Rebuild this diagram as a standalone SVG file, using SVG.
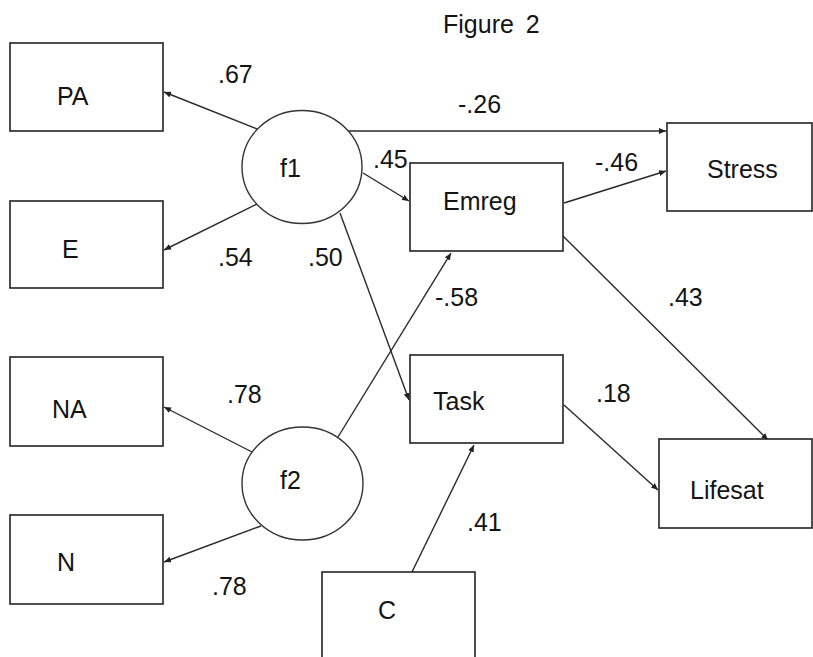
<svg xmlns="http://www.w3.org/2000/svg" width="813" height="657" viewBox="0 0 813 657">
<style>
.box{fill:#fff;stroke:#222;stroke-width:1.6}
.lat{fill:#fff;stroke:#333;stroke-width:1.4}
.t{font-family:"Liberation Sans",Arial,sans-serif;font-size:25px;fill:#141414}
.c line{stroke:#2a2a2a;stroke-width:1.4;marker-end:url(#ah)}
</style>
<defs>
<marker id="ah" markerUnits="userSpaceOnUse" markerWidth="8" markerHeight="6" refX="7" refY="3" orient="auto">
<path d="M0,0 L7,3 L0,6 z" fill="#222"/>
</marker>
</defs>
<rect width="813" height="657" fill="#fff"/>
<text class="t" x="443" y="33" word-spacing="5">Figure 2</text>
<g id="connectors" class="c">
<line x1="257" y1="129" x2="164" y2="92"/>
<line x1="257" y1="204" x2="164" y2="250"/>
<line x1="348" y1="131" x2="666" y2="131"/>
<line x1="363" y1="173" x2="409" y2="201"/>
<line x1="564" y1="203" x2="666" y2="171"/>
<line x1="563" y1="236" x2="768" y2="440"/>
<line x1="340" y1="213" x2="409" y2="400"/>
<line x1="338" y1="437" x2="451" y2="253"/>
<line x1="252" y1="452" x2="164" y2="407"/>
<line x1="261" y1="526" x2="164" y2="562"/>
<line x1="564" y1="405" x2="658" y2="490"/>
<line x1="412" y1="572" x2="474" y2="445"/>
</g>
<g id="labels">
<text class="t" x="218" y="83">.67</text>
<text class="t" x="218" y="266">.54</text>
<text class="t" x="308" y="266">.50</text>
<text class="t" x="458" y="113">-.26</text>
<text class="t" x="373" y="168">.45</text>
<text class="t" x="595" y="171">-.46</text>
<text class="t" x="435" y="306">-.58</text>
<text class="t" x="668" y="306">.43</text>
<text class="t" x="227" y="403">.78</text>
<text class="t" x="212" y="595">.78</text>
<text class="t" x="596" y="402">.18</text>
<text class="t" x="467" y="531">.41</text>
</g>
<g id="PA"><rect class="box" x="10" y="43" width="153" height="88"/><text class="t" x="57" y="105">PA</text></g>
<g id="E"><rect class="box" x="10" y="201" width="153" height="87"/><text class="t" x="62" y="258">E</text></g>
<g id="NA"><rect class="box" x="10" y="357" width="153" height="89"/><text class="t" x="52" y="418">NA</text></g>
<g id="N"><rect class="box" x="10" y="515" width="153" height="89"/><text class="t" x="57" y="571">N</text></g>
<g id="f1"><ellipse class="lat" cx="302" cy="167" rx="60" ry="56.5"/><text class="t" x="280" y="177">f1</text></g>
<g id="f2"><ellipse class="lat" cx="302.5" cy="483.5" rx="60.5" ry="56.5"/><text class="t" x="280" y="489">f2</text></g>
<g id="Emreg"><rect class="box" x="410" y="163" width="153" height="88"/><text class="t" x="443" y="210">Emreg</text></g>
<g id="Task"><rect class="box" x="410" y="355" width="153" height="88"/><text class="t" x="433" y="410">Task</text></g>
<g id="Stress"><rect class="box" x="667" y="123" width="145" height="88"/><text class="t" x="707" y="178">Stress</text></g>
<g id="Lifesat"><rect class="box" x="659" y="439" width="153" height="89"/><text class="t" x="690" y="499">Lifesat</text></g>
<g id="C"><rect class="box" x="322" y="572" width="153" height="100"/><text class="t" x="378" y="619">C</text></g>
</svg>
